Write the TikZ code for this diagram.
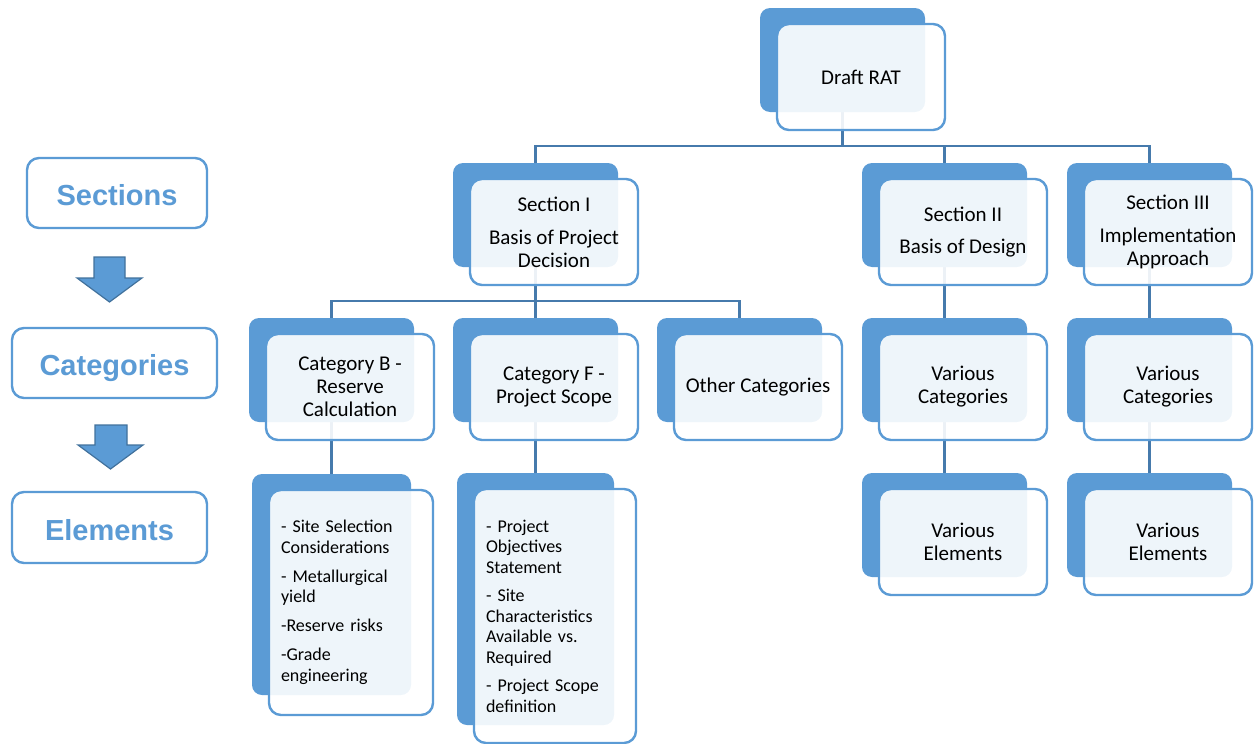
\documentclass[tikz,border=0pt]{standalone}
\usepackage{fontspec}
\setmainfont{Carlito}
\newfontfamily\legendfont{Liberation Sans}
\usetikzlibrary{backgrounds}

\definecolor{accent}{RGB}{91,155,213}
\definecolor{accentdark}{RGB}{65,113,156}
\definecolor{linkblue}{RGB}{70,122,172}

\tikzset{
  backbox/.style={fill=accent, draw=none, rounded corners=10pt, inner sep=0pt},
  frontbox/.style={fill=white, fill opacity=0.9, text opacity=1, draw=accent,
    draw opacity=1, line width=2.4pt, rounded corners=12pt, align=center,
    font=\fontsize{21}{23}\selectfont, text=black},
  elemtext/.style={align=left, inner sep=0pt, font=\fontsize{18}{20.5}\selectfont},
  legendbox/.style={fill=white, draw=accent, line width=2.4pt, rounded corners=12pt,
    font=\legendfont\bfseries\fontsize{29}{32}\selectfont, text=accent,
    text height=28pt, text depth=3pt},
  link/.style={draw=linkblue, line width=2.2pt},
  blockarrow/.style={fill=accent, draw=accentdark, line width=1.2pt, line join=miter}
}

% \card[front options]{name}{left}{top}{w}{h}{front w}{front h}{text}
\newcommand\card[9][]{%
  \node[backbox, minimum width=#5pt, minimum height=#6pt] (#2-b)
    at ({#3+#5/2},{#4+#6/2}) {};
  \node[frontbox, minimum width=#7pt, minimum height=#8pt, #1] (#2)
    at ({#3+17+#7/2},{#4+16+#8/2}) {#9};
}

\begin{document}
\begin{tikzpicture}[x=1pt,y=-1pt]
\useasboundingbox (0,0) rectangle (1259,744);

% legend column
\node[legendbox, minimum width=180pt, minimum height=70pt] (secL) at (117,193) {Sections};
\node[legendbox, minimum width=205pt, minimum height=70pt] (catL) at (114.5,363) {Categories};
\node[legendbox, minimum width=195pt, minimum height=71pt] (eleL) at (109.5,527.5) {Elements};
\draw[blockarrow] (94,257) -- (125,257) -- (125,278) -- (142,278) -- (109.5,302)
  -- (77,278) -- (94,278) -- cycle;
\draw[blockarrow] (95,425) -- (127,425) -- (127,445) -- (143,445) -- (110.5,469)
  -- (78,445) -- (95,445) -- cycle;

% top level
\card{rat}{760}{8}{165}{104}{168}{106}{Draft RAT}

% sections
\card{s1}{453}{163}{165}{104}{168}{106}{Section I\\[10pt]Basis of Project\\Decision}
\card{s2}{862}{163}{165}{104}{168}{106}{Section II\\[9pt]Basis of Design}
\card{s3}{1067}{163}{165}{104}{168}{106}{Section III\\[10pt]Implementation\\Approach}

% categories
\card{cB}{249}{318}{165}{104}{168}{106}{Category B -\\Reserve\\Calculation}
\card{cF}{453}{318}{165}{104}{168}{106}{Category F -\\Project Scope}
\card{cO}{657}{318}{165}{104}{168}{106}{Other Categories}
\card{c2}{862}{318}{165}{104}{168}{106}{Various\\Categories}
\card{c3}{1067}{318}{165}{104}{168}{106}{Various\\Categories}

% elements
\card[elemtext, text width=140pt]{eB}{252}{474}{159}{221}{164}{225}{%
  - Site Selection\\Considerations\\[8.5pt]
  - Metallurgical\\yield\\[8.5pt]
  -Reserve risks\\[8.5pt]
  -Grade\\engineering}
\card[elemtext, text width=138pt]{eF}{457}{473}{157}{252}{162}{254}{%
  - Project\\Objectives\\Statement\\[8pt]
  - Site\\Characteristics\\Available vs.\\Required\\[8pt]
  - Project Scope\\definition}
\card{e2}{862}{473}{165}{104}{168}{106}{Various\\Elements}
\card{e3}{1067}{473}{165}{104}{168}{106}{Various\\Elements}

% connectors
\begin{scope}[on background layer]
  \coordinate (busA) at (0,146);
  \coordinate (busB) at (0,301);
  \draw[link] (rat-b.center) |- (s1-b.north |- busA) -- (s1-b.north);
  \draw[link] (rat-b.center) |- (s2-b.north |- busA) -- (s2-b.north);
  \draw[link] (rat-b.center) |- (s3-b.north |- busA) -- (s3-b.north);
  \draw[link] (s1-b.center) |- (cB-b.north |- busB) -- (cB-b.north);
  \draw[link] (s1-b.center) -- (cF-b.north);
  \draw[link] (s1-b.center) |- (cO-b.north |- busB) -- (cO-b.north);
  \draw[link] (s2-b.center) -- (c2-b.north);
  \draw[link] (s3-b.center) -- (c3-b.north);
  \draw[link] (c2-b.center) -- (e2-b.north);
  \draw[link] (c3-b.center) -- (e3-b.north);
  \draw[link] (cB-b.center) -- (eB-b.north);
  \draw[link] (cF-b.center) -- (eF-b.north);
\end{scope}
\end{tikzpicture}
\end{document}
